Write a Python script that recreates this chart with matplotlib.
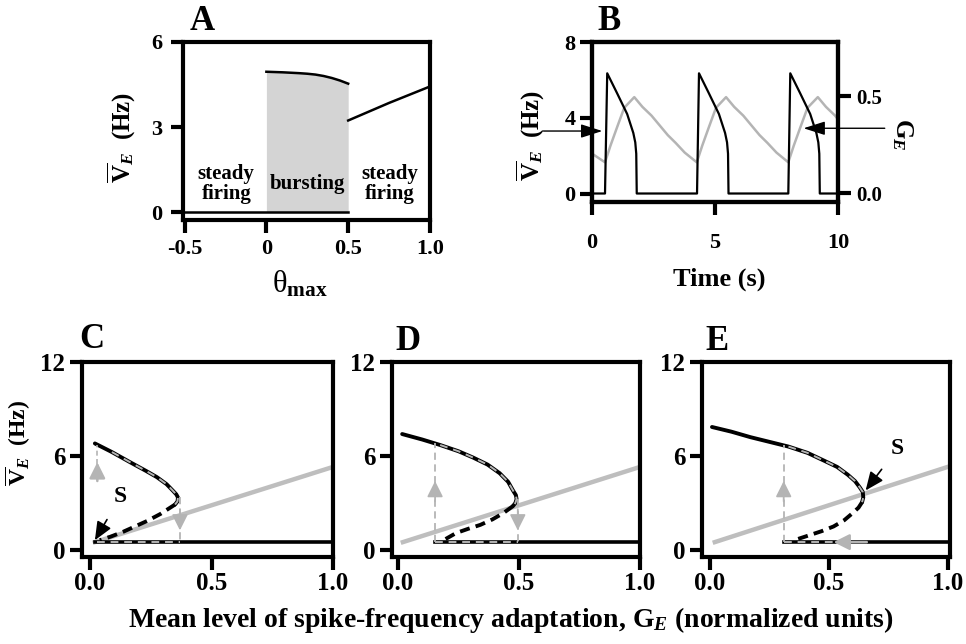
import numpy as np
import matplotlib
matplotlib.use("Agg")
import matplotlib.pyplot as plt

plt.rcParams['font.family'] = ['Liberation Serif', 'DejaVu Serif']
plt.rcParams['font.weight'] = 'bold'
plt.rcParams['mathtext.fontset'] = 'custom'
plt.rcParams['mathtext.rm'] = 'Liberation Serif:bold'
plt.rcParams['mathtext.bf'] = 'Liberation Serif:bold'
plt.rcParams['mathtext.it'] = 'Liberation Serif:bold:italic'

# ---- panel A: mean rate vs theta_max
burst_theta = [0.0, 0.1, 0.2, 0.25, 0.3, 0.35, 0.4, 0.45, 0.5]
burst_upper = [4.95, 4.93, 4.9, 4.88, 4.85, 4.8, 4.73, 4.64, 4.53]
low_theta = [-0.5, 0.5]
low_rate = [0.0, 0.0]
steady_theta = [0.5, 0.75, 1.0]
steady_rate = [3.23, 3.85, 4.43]

# ---- panel B: time courses
t_rate = [0, 0.53, 0.62, 1.02, 1.43, 1.68, 1.76, 1.8, 1.82,
          4.27, 4.35, 4.75, 5.16, 5.41, 5.49, 5.53, 5.55,
          7.98, 8.06, 8.46, 8.87, 9.12, 9.2, 9.24, 9.26, 10]
v_rate = [0, 0, 6.35, 5.3, 4.2, 3.2, 2.7, 2.1, 0,
          0, 6.35, 5.3, 4.2, 3.2, 2.7, 2.1, 0,
          0, 6.35, 5.3, 4.2, 3.2, 2.7, 2.1, 0, 0]
t_adapt = [0, 0.53, 0.75, 1.02, 1.31, 1.72, 2.05, 2.42, 2.75, 3.08, 3.4, 3.77,
           4.26, 4.48, 4.75, 5.04, 5.45, 5.78, 6.15, 6.48, 6.81, 7.13, 7.5,
           7.98, 8.2, 8.47, 8.76, 9.18, 9.51, 9.88, 10]
g_adapt = [0.205, 0.16, 0.245, 0.34, 0.44, 0.495, 0.445, 0.40, 0.35, 0.30, 0.26, 0.21,
           0.16, 0.245, 0.34, 0.44, 0.495, 0.445, 0.40, 0.35, 0.30, 0.26, 0.21,
           0.16, 0.245, 0.34, 0.44, 0.495, 0.445, 0.40, 0.38]
mean_rate = 3.3
mean_adapt = 0.335

# ---- panels C-E: bifurcation diagrams
null_x = [0.02, 1.0]
null_y = [0.5, 5.3]
low_y = 0.5

C_up_x = [0.02, 0.09, 0.165, 0.23, 0.275, 0.315, 0.34, 0.355, 0.362, 0.36, 0.35]
C_up_y = [6.8, 6.25, 5.6, 5.05, 4.65, 4.2, 3.8, 3.55, 3.35, 3.1, 2.9]
C_mid_x = [0.35, 0.33, 0.29, 0.235, 0.185, 0.135, 0.085, 0.04]
C_mid_y = [2.9, 2.7, 2.3, 1.85, 1.5, 1.15, 0.85, 0.62]

D_up_x = [0.017, 0.1, 0.174, 0.25, 0.31, 0.37, 0.42, 0.455, 0.475, 0.487, 0.49, 0.485, 0.475]
D_up_y = [7.4, 7.05, 6.7, 6.3, 5.9, 5.45, 4.9, 4.35, 3.8, 3.5, 3.25, 3.0, 2.8]
D_mid_x = [0.475, 0.435, 0.39, 0.34, 0.29, 0.24, 0.19]
D_mid_y = [2.8, 2.35, 1.95, 1.6, 1.35, 1.08, 0.64]

E_up_x = [0.008, 0.09, 0.17, 0.25, 0.33, 0.41, 0.48, 0.535, 0.58, 0.61, 0.63, 0.643, 0.645, 0.64]
E_up_y = [7.85, 7.55, 7.2, 6.9, 6.6, 6.2, 5.7, 5.3, 4.8, 4.4, 4.0, 3.7, 3.35, 3.05]
E_mid_x = [0.64, 0.625, 0.6, 0.565, 0.52, 0.47, 0.42, 0.38, 0.35]
E_mid_y = [3.05, 2.7, 2.35, 1.9, 1.5, 1.2, 0.95, 0.75, 0.6]

# jump points of the relaxation cycle (x of up jump, x of down jump)
C_jump = [0.03, 0.37]
D_jump = [0.153, 0.495]
E_jump = [0.31, None]

GREY = '#b4b4b4'
NULL_GREY = '#bebebe'


def style(ax, size):
    for s in ax.spines.values():
        s.set_linewidth(3)
    ax.tick_params(direction='out', length=9, width=3, labelsize=size)
    ax.tick_params(top=False, right=False)


def grey_arrow(ax, tip, tail, lw=1.3):
    ax.annotate('', xy=tip, xytext=tail,
                arrowprops=dict(arrowstyle='-|>,head_length=0.6,head_width=0.3', color=GREY,
                                lw=lw, mutation_scale=16, shrinkA=0, shrinkB=0), zorder=5)


fig = plt.figure(figsize=(9.66, 6.44), dpi=100)

# ---------------- A
axA = fig.add_axes([0.1894, 0.6584, 0.2557, 0.2764])
axA.fill_between(burst_theta, 0, burst_upper, color='#d4d4d4', lw=0)
axA.plot(burst_theta, burst_upper, 'k', lw=1.8)
axA.plot(low_theta, low_rate, 'k', lw=1.8)
axA.plot(steady_theta, steady_rate, 'k', lw=1.8)
axA.set_xlim(-0.51, 1.0)
axA.set_ylim(-0.28, 6)
axA.set_xticks([-0.5, 0, 0.5, 1.0], ['-0.5', '0', '0.5', '1.0'])
axA.set_yticks([0, 3, 6])
style(axA, 16)
axA.tick_params(axis='x', pad=5)
axA.tick_params(axis='y', pad=6)
axA.text(-0.245, 1.0, 'steady\nfiring', ha='center', va='center', fontsize=15, linespacing=1.0)
axA.text(0.25, 1.0, 'bursting', ha='center', va='center', fontsize=15)
axA.text(0.755, 1.0, 'steady\nfiring', ha='center', va='center', fontsize=15, linespacing=1.0)
fig.text(0.126, 0.787, r'$\overline{\mathbf{V}}_{\mathit{E}}$  (Hz)', rotation=90,
         ha='center', va='center', fontsize=18)
fig.text(0.311, 0.558, 'θ$_{\\mathbf{max}}$', ha='center', va='center', fontsize=22,
         fontweight='normal')

# ---------------- B
axB = fig.add_axes([0.6128, 0.6863, 0.2547, 0.2484])
axB2 = axB.twinx()
axB2.plot(t_adapt, g_adapt, color=GREY, lw=1.8)
axB.plot(t_rate, v_rate, 'k', lw=1.6, zorder=3)
axB.set_zorder(axB2.get_zorder() + 1)
axB.patch.set_visible(False)
axB.set_xlim(0, 10)
axB.set_ylim(-0.45, 8)
axB2.set_ylim(-0.044, 0.778)
axB.set_xticks([0, 5, 10])
axB.set_yticks([0, 4, 8])
axB2.set_yticks([0.0, 0.5], ['0.0', '0.5'])
style(axB, 16)
style(axB2, 15)
axB2.tick_params(right=True, left=False, labelright=True, labelleft=False, pad=4)
axB.tick_params(axis='x', pad=13)
axB.tick_params(axis='y', pad=3)
head = dict(arrowstyle='-|>,head_length=1.1,head_width=0.35', color='k', lw=1.0,
            mutation_scale=12, shrinkA=0, shrinkB=0)
axB.annotate('', xy=(0.42, mean_rate), xytext=(-1.97, mean_rate), annotation_clip=False,
             arrowprops=head)
axB2.annotate('', xy=(8.6, mean_adapt), xytext=(11.9, mean_adapt), annotation_clip=False,
              arrowprops=head)
fig.text(0.550, 0.790, r'$\overline{\mathbf{V}}_{\mathit{E}}$  (Hz)', rotation=90,
         ha='center', va='center', fontsize=18)
fig.text(0.934, 0.792, r'G$_{\mathit{E}}$', rotation=270, ha='center', va='center', fontsize=18)
fig.text(0.745, 0.567, 'Time (s)', ha='center', va='center', fontsize=19)

# ---------------- C, D, E
panels = [
    ('C', [0.0849, 0.1351, 0.2598, 0.3028], (-0.033, 1.0), C_up_x, C_up_y, C_mid_x, C_mid_y, C_jump),
    ('D', [0.4058, 0.1351, 0.2567, 0.3028], (-0.025, 1.0), D_up_x, D_up_y, D_mid_x, D_mid_y, D_jump),
    ('E', [0.7267, 0.1351, 0.2567, 0.3028], (-0.034, 1.01), E_up_x, E_up_y, E_mid_x, E_mid_y, E_jump),
]
axes = []
for name, rect, xl, ux, uy, mx, my, jump in panels:
    ax = fig.add_axes(rect)
    axes.append(ax)
    ux = np.array(ux)
    uy = np.array(uy)
    ax.plot(null_x, null_y, color=NULL_GREY, lw=3.2, zorder=2)
    low_start = jump[0] if name != 'C' else 0.02
    ax.plot([low_start, 1.0], [low_y, low_y], 'k', lw=2.6, zorder=3)
    ax.plot(ux, uy, 'k', lw=2.8, zorder=3, solid_capstyle='round')
    ax.plot(mx, my, 'k', lw=2.8, ls=(0, (2.6, 1.6)), zorder=3)
    # relaxation cycle overlay
    up = jump[0]
    sel = ux >= up
    ax.plot(ux[sel], uy[sel], color=GREY, lw=1.4, ls=(0, (4, 3)), zorder=4)
    nose = np.argmax(ux)
    top_y = np.interp(up, ux[:nose + 1], uy[:nose + 1])
    if name == 'C':
        ax.plot([up, up], [5.5, top_y], color=GREY, lw=1.2, ls=(0, (3, 2)), zorder=4)
        grey_arrow(ax, (up, 5.6), (up, 4.4), lw=1.8)
    else:
        ax.plot([up, up], [low_y, top_y], color=GREY, lw=1.3, ls=(0, (4, 2.5)), zorder=4)
        grey_arrow(ax, (up, 4.4), (up, 3.1))
    if jump[1] is not None:
        down = jump[1]
        ax.plot([down, down], [uy[nose], low_y], color=GREY, lw=1.3, ls=(0, (4, 2.5)), zorder=4)
        grey_arrow(ax, (down, 1.25), (down, 2.6))
        ax.plot([up, down], [low_y, low_y], color=GREY, lw=1.4, ls=(0, (4, 3)), zorder=4)
    else:
        ax.plot([up, 0.6], [low_y, low_y], color=GREY, lw=1.4, ls=(0, (4, 3)), zorder=4)
        grey_arrow(ax, (0.52, low_y), (0.66, low_y), lw=1.8)
    ax.set_xlim(*xl)
    ax.set_ylim(-0.45, 12)
    ax.set_xticks([0.0, 0.5, 1.0], ['0.0', '0.5', '1.0'])
    ax.set_yticks([0, 6, 12])
    style(ax, 18)
    ax.tick_params(axis='x', pad=2)
    ax.tick_params(axis='y', pad=3)

axC, axD, axE = axes
axC.annotate('S', xy=(0.02, 0.62), xytext=(0.125, 3.4), ha='center', va='center', fontsize=17,
             arrowprops=dict(arrowstyle='-|>,head_length=0.7,head_width=0.3', color='k',
                             lw=1.2, mutation_scale=16, shrinkA=8, shrinkB=0), zorder=6)
axE.annotate('S', xy=(0.655, 3.8), xytext=(0.79, 6.5), ha='center', va='center', fontsize=17,
             arrowprops=dict(arrowstyle='-|>,head_length=0.7,head_width=0.3', color='k',
                             lw=1.2, mutation_scale=16, shrinkA=8, shrinkB=0), zorder=6)
fig.text(0.0186, 0.312, r'$\overline{\mathbf{V}}_{\mathit{E}}$  (Hz)', rotation=90,
         ha='center', va='center', fontsize=17)
fig.text(0.529, 0.038, r'Mean level of spike-frequency adaptation, G$_{\mathit{E}}$ (normalized units)',
         ha='center', va='center', fontsize=20)

for lab, x, y in [('A', 0.209, 0.967), ('B', 0.630, 0.967), ('C', 0.095, 0.473),
                  ('D', 0.422, 0.469), ('E', 0.742, 0.469)]:
    fig.text(x, y, lab, ha='center', va='center', fontsize=25)

fig.savefig('out.png', dpi=100)
